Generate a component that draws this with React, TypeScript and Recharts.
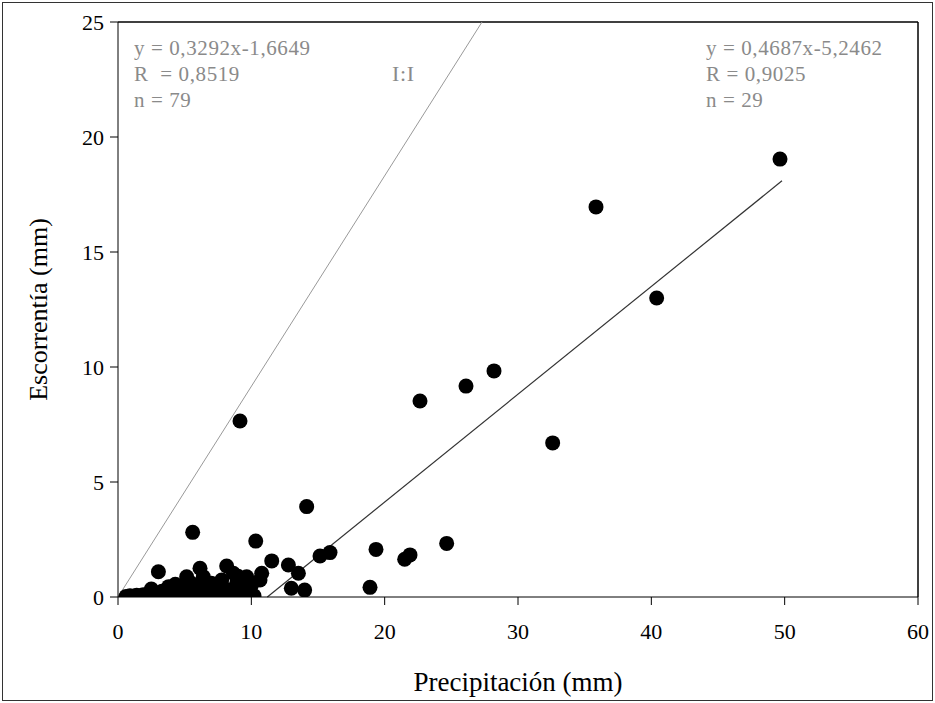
import React from "react"
import {
  ComposedChart,
  Scatter,
  XAxis,
  YAxis,
  ReferenceLine,
} from "recharts"

// precipitation (mm) vs runoff (mm)
const precip = [
  0.6, 0.9, 1.2, 1.4, 1.7, 1.9, 2.1, 2.3, 2.5, 2.7, 2.9, 3.1, 3.3, 3.5, 3.8, 4.0,
  4.2, 4.5, 4.7, 4.9, 5.1, 5.3, 5.5, 5.7, 5.9, 6.1, 6.3, 6.6, 6.9, 7.2, 7.5, 7.8,
  8.0, 8.3, 8.6, 8.9, 9.2, 9.5, 9.8, 10.0, 10.2, 2.5, 3.8, 4.3, 7.0, 9.0,
  3.03, 5.15, 5.6, 6.15, 6.4, 7.78, 8.15, 8.65, 9.15, 9.65, 10.33, 10.65, 10.78,
  11.53, 12.78, 13.0, 13.53, 14.0, 14.15, 15.15, 15.9, 18.9, 19.35, 21.5, 21.9,
  22.65, 24.65, 26.1, 28.2, 32.6, 35.85, 40.4, 49.65,
]
const runoff = [
  0.02, 0.05, 0.03, 0.08, 0.05, 0.1, 0.06, 0.15, 0.08, 0.2, 0.1, 0.05, 0.25, 0.12, 0.18, 0.08,
  0.3, 0.15, 0.05, 0.4, 0.2, 0.1, 0.6, 0.3, 0.05, 0.5, 0.15, 0.35, 0.1, 0.2, 0.05, 0.45,
  0.15, 0.3, 0.1, 0.6, 0.2, 0.35, 0.1, 0.5, 0.05, 0.35, 0.45, 0.55, 0.6, 0.9,
  1.1, 0.88, 2.81, 1.25, 0.88, 0.74, 1.35, 1.03, 7.65, 0.88, 2.43, 0.74, 1.03,
  1.57, 1.39, 0.38, 1.03, 0.3, 3.93, 1.78, 1.93, 0.42, 2.07, 1.64, 1.83,
  8.52, 2.33, 9.17, 9.83, 6.7, 16.96, 13.0, 19.04,
]

const xTicks = [0, 10, 20, 30, 40, 50, 60]
const yTicks = [0, 5, 10, 15, 20, 25]

// fitted line printed on the figure: y = 0,4687x - 5,2462
const slope = 0.4687
const intercept = -5.2462
const fitFrom = 11.2
const fitTo = 49.8

// the "1:1" guide as drawn (it leaves the top of the plot near x = 27.3)
const guideEnd = { x: 27.3, y: 25 }

const leftNote = ["y = 0,3292x-1,6649", "R\u00a0 = 0,8519", "n = 79"]
const rightNote = ["y = 0,4687x-5,2462", "R = 0,9025", "n = 29"]

const points = precip.map((x, i) => ({ x, y: runoff[i] }))

const serif = "'Liberation Serif', 'DejaVu Serif', serif"

const Dot = (props: any) => {
  const { cx, cy } = props
  return <circle cx={cx} cy={cy} r={7.5} fill="#000" />
}

export default function App() {
  const noteStyle: React.CSSProperties = {
    position: "absolute",
    fontFamily: serif,
    fontSize: 21,
    letterSpacing: 0.6,
    color: "#8a8a8a",
    lineHeight: "26px",
    whiteSpace: "pre",
  }
  return (
    <div
      style={{
        position: "fixed",
        left: 0,
        top: 0,
        width: 935,
        height: 703,
        background: "#fff",
      }}
    >
      <div
        style={{
          position: "absolute",
          left: 2,
          top: 2,
          width: 929,
          height: 697,
          border: "1px solid #333",
        }}
      />
      <ComposedChart
        width={935}
        height={703}
        data={points}
        margin={{ top: 22, right: 17, bottom: 10, left: 0 }}
      >
        <XAxis
          type="number"
          dataKey="x"
          domain={[0, 60]}
          ticks={xTicks}
          allowDataOverflow
          stroke="#000"
          tickSize={8}
          tickMargin={18}
          height={96}
          tick={{ fill: "#000", fontSize: 22, fontFamily: serif }}
          label={{
            value: "Precipitación (mm)",
            position: "insideBottom",
            offset: 2,
            fill: "#000",
            fontSize: 27,
            fontFamily: serif,
          }}
        />
        <YAxis
          type="number"
          dataKey="y"
          domain={[0, 25]}
          ticks={yTicks}
          allowDataOverflow
          stroke="#000"
          tickSize={8}
          tickMargin={6}
          width={118}
          tick={{ fill: "#000", fontSize: 22, fontFamily: serif }}
          label={{
            value: "Escorrentía (mm)",
            angle: -90,
            position: "insideLeft",
            offset: 38,
            fill: "#000",
            fontSize: 26,
            fontFamily: serif,
            style: { textAnchor: "middle" },
          }}
        />
        <ReferenceLine y={25} stroke="#000" strokeWidth={1.5} />
        <ReferenceLine x={60} stroke="#000" strokeWidth={1.5} />
        <ReferenceLine
          segment={[{ x: 0, y: 0 }, guideEnd]}
          stroke="#999"
          strokeWidth={1}
          ifOverflow="hidden"
        />
        <ReferenceLine
          segment={[
            { x: fitFrom, y: slope * fitFrom + intercept },
            { x: fitTo, y: slope * fitTo + intercept },
          ]}
          stroke="#333"
          strokeWidth={1.2}
        />
        <Scatter data={points} shape={Dot} isAnimationActive={false} />
      </ComposedChart>
      <div style={{ ...noteStyle, left: 134, top: 35 }}>{leftNote.join("\n")}</div>
      <div style={{ ...noteStyle, left: 392, top: 61, fontSize: 22 }}>I:I</div>
      <div style={{ ...noteStyle, left: 706, top: 35 }}>{rightNote.join("\n")}</div>
    </div>
  )
}
